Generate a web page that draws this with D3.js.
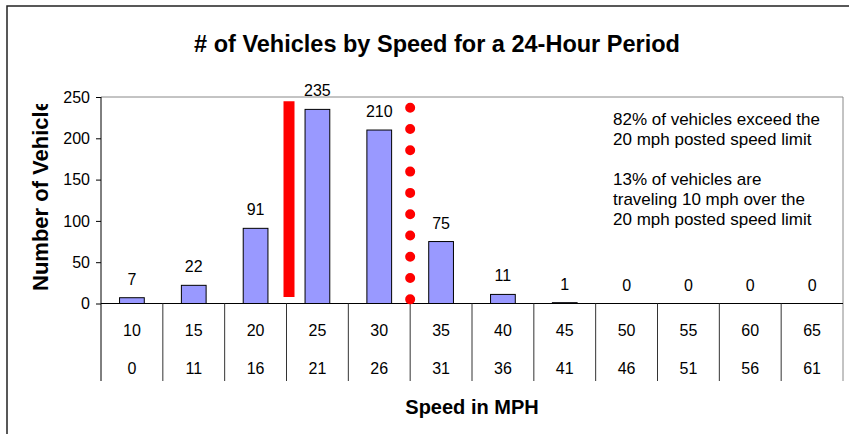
<!DOCTYPE html>
<html>
<head>
<meta charset="utf-8">
<script src="https://cdn.jsdelivr.net/npm/d3@7"></script>
<style>
  body { margin: 0; background: #fff; }
  svg { display: block; font-family: "Liberation Sans", Arial, sans-serif; }
</style>
</head>
<body>
<svg id="chart" width="849" height="434"></svg>
<script>
"use strict";

// speed bins (upper row) and their lower bounds (second row of the table)
var categories = ["10", "15", "20", "25", "30", "35", "40", "45", "50", "55", "60", "65"];
var lowerBounds = ["0", "11", "16", "21", "26", "31", "36", "41", "46", "51", "56", "61"];
var counts = [7, 22, 91, 235, 210, 75, 11, 1, 0, 0, 0, 0];
var yTicks = [0, 50, 100, 150, 200, 250];
var notes = [
    ["82% of vehicles exceed the", "20 mph posted speed limit"],
    ["13% of vehicles are", "traveling 10 mph over the", "20 mph posted speed limit"]
];
// red markers: boundary index between bins, value range
var postedLimit = { after: 3, from: 8, to: 245 };
var overLimit = { after: 5, from: 5, to: 237 };

var svg = d3.select("#chart");
var plotLeft = 101, plotRight = 843, plotTop = 97, plotBottom = 303.5, tableBottom = 381;

var x = d3.scaleBand().domain(categories).range([plotLeft, plotRight]);
var y = d3.scaleLinear().domain([0, 250]).range([plotBottom, plotTop]);
var bw = x.bandwidth();
function edge(i) { return plotLeft + i * bw; }

// outer chart frame (cropped at right / bottom)
svg.append("path").attr("d", "M7,434 V6 H849")
    .attr("fill", "none").attr("stroke", "#222").attr("stroke-width", 1.5);

// title
svg.append("text").attr("x", 437).attr("y", 52).attr("text-anchor", "middle")
    .attr("font-size", 23.5).attr("font-weight", "bold").text("# of Vehicles by Speed for a 24-Hour Period");

// plot area border (grey)
svg.append("path").attr("d", "M" + plotLeft + "," + plotTop + " H" + plotRight + " V" + tableBottom)
    .attr("fill", "none").attr("stroke", "#888").attr("stroke-width", 1);

// bars
svg.selectAll("rect.bar").data(counts).enter().append("rect")
    .attr("class", "bar")
    .attr("x", function(d, i){ return x(categories[i]) + bw * 0.3; })
    .attr("width", bw * 0.4)
    .attr("y", function(d){ return y(d); })
    .attr("height", function(d){ return plotBottom - y(d); })
    .attr("fill", "#9999FF").attr("stroke", "#000").attr("stroke-width", 1);

// value labels
svg.selectAll("text.val").data(counts).enter().append("text")
    .attr("class", "val")
    .attr("x", function(d, i){ return x(categories[i]) + bw / 2; })
    .attr("y", function(d){ return y(d) - 13; })
    .attr("text-anchor", "middle").attr("font-size", 16)
    .text(function(d){ return d; });

// y axis
var yAxis = svg.append("g").attr("transform", "translate(" + plotLeft + ",0)")
    .call(d3.axisLeft(y).tickValues(yTicks).tickSize(5).tickSizeOuter(0).tickPadding(6));
yAxis.select(".domain").remove();
yAxis.selectAll("line").attr("stroke", "#000");
yAxis.selectAll("text").attr("font-size", 16).attr("font-family", "Liberation Sans, Arial, sans-serif").attr("fill", "#000");
svg.append("line").attr("x1", plotLeft).attr("x2", plotLeft).attr("y1", plotTop).attr("y2", tableBottom)
    .attr("stroke", "#000");

// x axis line and table grid
svg.append("line").attr("x1", plotLeft).attr("x2", plotRight).attr("y1", plotBottom).attr("y2", plotBottom)
    .attr("stroke", "#000");
svg.selectAll("line.grid").data(d3.range(1, categories.length)).enter().append("line")
    .attr("class", "grid")
    .attr("x1", edge).attr("x2", edge)
    .attr("y1", plotBottom).attr("y2", tableBottom)
    .attr("stroke", "#333");

svg.selectAll("text.cat").data(categories).enter().append("text")
    .attr("class", "cat")
    .attr("x", function(d){ return x(d) + bw / 2; }).attr("y", 336)
    .attr("text-anchor", "middle").attr("font-size", 16).text(function(d){ return d; });
svg.selectAll("text.low").data(lowerBounds).enter().append("text")
    .attr("class", "low")
    .attr("x", function(d, i){ return x(categories[i]) + bw / 2; }).attr("y", 374)
    .attr("text-anchor", "middle").attr("font-size", 16).text(function(d){ return d; });

// axis titles
svg.append("text").attr("x", (plotLeft + plotRight) / 2).attr("y", 414).attr("text-anchor", "middle")
    .attr("font-size", 20).attr("font-weight", "bold").text("Speed in MPH");

svg.append("clipPath").attr("id", "ylabClip")
    .append("rect").attr("x", 0).attr("y", 104).attr("width", 100).attr("height", 330);
svg.append("g").attr("clip-path", "url(#ylabClip)")
    .append("text").attr("transform", "translate(48,291) rotate(-90)")
    .attr("font-size", 22).attr("font-weight", "bold").text("Number of Vehicles");

// red markers
svg.append("line")
    .attr("x1", edge(postedLimit.after) + 2.5).attr("x2", edge(postedLimit.after) + 2.5)
    .attr("y1", y(postedLimit.to)).attr("y2", y(postedLimit.from))
    .attr("stroke", "#FF0000").attr("stroke-width", 11);

// dotted marker: 10 round dots, first and last at the line ends
var dotLen = y(overLimit.from) - y(overLimit.to);
svg.append("line")
    .attr("x1", edge(overLimit.after)).attr("x2", edge(overLimit.after))
    .attr("y1", y(overLimit.to)).attr("y2", y(overLimit.from) + 1)
    .attr("stroke", "#FF0000").attr("stroke-width", 10)
    .attr("stroke-linecap", "round").attr("stroke-dasharray", "0 " + (dotLen / 9));

// notes
var noteTops = [125, 185];
notes.forEach(function(lines, n){
    var t = svg.append("text").attr("x", 613).attr("y", noteTops[n]).attr("font-size", 17);
    lines.forEach(function(s, k){
        t.append("tspan").attr("x", 613).attr("y", noteTops[n] + k * 19.8).text(s);
    });
});
</script>
</body>
</html>
